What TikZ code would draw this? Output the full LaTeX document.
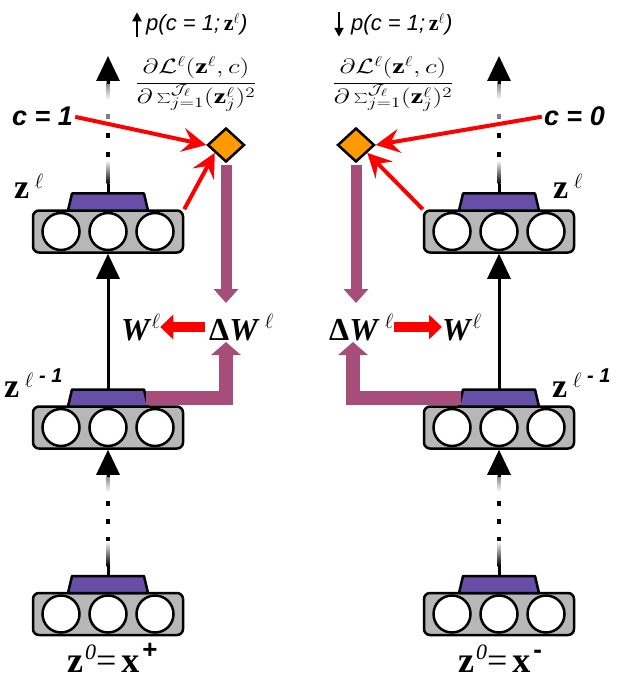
\documentclass[tikz,border=0pt]{standalone}
\usepackage{fontspec}
\setmainfont{Liberation Serif}
\newfontfamily\arialf{Liberation Sans}
\usetikzlibrary{arrows.meta,shapes.geometric}
\definecolor{boxgray}{HTML}{B7B7B7}
\definecolor{trapcol}{HTML}{674EA7}
\definecolor{mauve}{HTML}{A64D79}
\definecolor{diacol}{HTML}{FF9900}
\tikzset{
 layerbox/.style={draw, line width=2.5pt, fill=boxgray, rounded corners=6pt, minimum width=150pt, minimum height=42pt, inner sep=0pt},
 unitc/.style={circle, draw, line width=2.5pt, fill=white, minimum size=37pt, inner sep=0pt},
 trapbox/.style={draw, line width=2.5pt, fill=trapcol, line join=round},
 gate/.style={diamond, draw, line width=2.5pt, fill=diacol, minimum width=37pt, minimum height=34pt, inner sep=0pt},
 redarrow/.style={red, line width=4pt, -{Stealth[length=24pt,width=24pt,inset=9pt]}},
 redblock/.style={red, line width=10pt, -{Triangle[length=13pt,width=24pt]}},
 blackarrow/.style={line width=3pt, -{Triangle[length=25pt,width=23pt]}},
 mauvearrow/.style={mauve, line width=11pt, -{Triangle[length=14pt,width=24pt]}},
 mauvearrowb/.style={mauve, line width=14pt, line join=miter, -{Triangle[length=13pt,width=29pt]}},
 bigz/.style={inner sep=0pt, font=\fontsize{34}{34}\selectfont\bfseries},
 botz/.style={inner sep=0pt, font=\fontsize{36}{36}\selectfont\bfseries},
 wtext/.style={inner sep=0pt, font=\fontsize{32}{32}\selectfont\bfseries},
 ctext/.style={inner sep=2pt, font=\arialf\fontsize{27}{27}\selectfont\bfseries\itshape},
 ptext/.style={inner sep=0pt, font=\arialf\fontsize{22}{22}\selectfont\itshape},
 fractext/.style={inner sep=0pt, font=\fontsize{21}{21}\selectfont},
 grayfade/.style={line width=3pt},
 smallarrow/.style={line width=2pt, -{Triangle[length=9pt,width=9pt]}},
}
\newcommand{\ellsup}[1]{\raisebox{#1}{\fontsize{21}{21}\selectfont$\ell$}}
\newcommand{\gradfrac}{\scalebox{1.32}[1]{$\displaystyle\frac{\partial\mathcal{L}^{\ell}(\mathbf{z}^{\ell},c)}{\partial\sum_{j=1}^{\mathcal{J}_{\ell}}(\mathbf{z}_j^{\ell})^2}$}}
\begin{document}
\begin{tikzpicture}[x=1pt,y=-1pt]
\useasboundingbox (0,0) rectangle (623,676);
\fill[white] (0,0) rectangle (623,676);

% ---------- layer boxes ----------
\foreach \nm/\cx/\cy in {L1/108/614, L2/108/427.5, L3/108/231.5, R1/499/614, R2/499/427.5, R3/499/231.5}{
  \node[layerbox] (\nm) at (\cx,\cy) {};
  \node[unitc] (\nm a) at (\cx-47,\cy) {};
  \node[unitc] (\nm b) at (\cx,\cy) {};
  \node[unitc] (\nm c) at (\cx+47,\cy) {};
  \draw[trapbox] (\cx-40,\cy-21) -- (\cx+40,\cy-21) -- (\cx+36,\cy-38) -- (\cx-36,\cy-38) -- cycle;
  \coordinate (\nm tn) at (\cx,\cy-38);
  \coordinate (\nm te) at (\cx+38,\cy-29.5);
  \coordinate (\nm tw) at (\cx-38,\cy-29.5);
}

% ---------- diamonds ----------
\node[gate] (D1) at (226,145) {};
\node[gate] (D2) at (356,145) {};

% ---------- solid black arrows ----------
\draw[blackarrow] (L2tn) -- (L3.south);
\draw[blackarrow] (R2tn) -- (R3.south);

% ---------- dotted black arrows ----------
\coordinate (LtopTip) at (108,56);
\coordinate (RtopTip) at (499,56);
\foreach \x/\lo/\tip in {108/L3tn/LtopTip, 499/R3tn/RtopTip}{
  \shade[top color=white, bottom color=black] (\x-1.5,160) rectangle (\x+1.5,184);
  \draw[grayfade] (\lo) -- (\x,184);
  \fill[black] (\x-1.6,152) rectangle (\x+1.6,157);
  \fill[black] (\x-1.6,133) rectangle (\x+1.6,138);
  \fill[gray] (\x-1.6,114) rectangle (\x+1.6,119);
  \shade[top color=gray, bottom color=white] (\x-1.5,82) rectangle (\x+1.5,100);
  \draw[blackarrow] (\x,84) -- (\tip);
}
\foreach \x/\lo/\hi in {108/L1tn/L2, 499/R1tn/R2}{
  \shade[top color=white, bottom color=black] (\x-1.5,541) rectangle (\x+1.5,566);
  \draw[grayfade] (\lo) -- (\x,566);
  \fill[black] (\x-1.6,537) rectangle (\x+1.6,541);
  \fill[black] (\x-1.6,519) rectangle (\x+1.6,524);
  \fill[black] (\x-1.6,501) rectangle (\x+1.6,506);
  \shade[top color=gray, bottom color=white] (\x-1.5,475) rectangle (\x+1.5,492);
  \draw[blackarrow] (\x,477) -- (\hi.south);
}

% ---------- labels on layers ----------
\node[bigz, anchor=base west] (zl) at (14,199) {z\,\ellsup{10pt}};
\node[bigz, anchor=base west] (zr) at (553,199) {z\,\ellsup{10pt}};
\node[bigz, anchor=base west] (zlm) at (4,397) {z\,\ellsup{10pt}\,{\arialf\itshape\fontsize{20}{20}\selectfont\raisebox{15pt}{- 1}}};
\node[bigz, anchor=base west] (zrm) at (552,397) {z\,\ellsup{10pt}\,{\arialf\itshape\fontsize{20}{20}\selectfont\raisebox{15pt}{- 1}}};
\node[botz, anchor=base west] (x0l) at (67,672) {z\kern2pt\raisebox{13pt}{\mdseries\itshape\fontsize{22}{22}\selectfont 0}{\mdseries=}\kern5pt x\kern3pt\raisebox{14pt}{\arialf\fontsize{26}{26}\selectfont +}};
\node[botz, anchor=base west] (x0r) at (458,672) {z\kern2pt\raisebox{13pt}{\mdseries\itshape\fontsize{22}{22}\selectfont 0}{\mdseries=}\kern5pt x\kern3pt\raisebox{14pt}{\arialf\fontsize{26}{26}\selectfont -}};

% ---------- c labels and red arrows ----------
\node[ctext, anchor=base west] (c1) at (10,126) {c = 1};
\node[ctext, anchor=base east] (c0) at (607,126) {c = 0};
\draw[redarrow] (c1.east) -- (D1.west);
\draw[redarrow] (L3.north east) -- (D1.215);
\draw[redarrow] (c0.west) -- (D2.east);
\draw[redarrow] (R3.north west) -- (D2.-35);

% ---------- top formulas ----------
\node[ptext, anchor=base west] (p1) at (146,31) {p(c = 1;\,$\mathbf{z}^{\ell}$)};
\node[ptext, anchor=base west] (p2) at (351,31) {p(c = 1;\,$\mathbf{z}^{\ell}$)};
\draw[smallarrow] ([xshift=-9pt,yshift=-1pt]p1.south west) -- ([xshift=-9pt,yshift=1pt]p1.north west);
\draw[smallarrow] ([xshift=-12pt,yshift=1pt]p2.north west) -- ([xshift=-12pt,yshift=-1pt]p2.south west);
\node[fractext, anchor=base] (f1) at (196,88) {\gradfrac};
\node[fractext, anchor=base] (f2) at (393,88) {\gradfrac};

% ---------- weight updates ----------
\node[wtext, anchor=base west] (dW1) at (209,340) {Δ\textit{W}\,\ellsup{12pt}};
\node[wtext, anchor=base west] (W1) at (121,340) {\textit{W}\ellsup{12pt}};
\node[wtext, anchor=base west] (dW2) at (329,340) {Δ\textit{W}\,\ellsup{12pt}};
\node[wtext, anchor=base west] (W2) at (442,340) {\textit{W}\ellsup{12pt}};
\coordinate (rowy) at (0,327);
\draw[redblock] (205,327) -- (W1.east |- rowy);
\draw[redblock] (dW2.east |- rowy) -- (W2.west |- rowy);

% ---------- mauve arrows ----------
\coordinate (dW1top) at (226,303);
\coordinate (dW1bot) at (226,342);
\coordinate (dW2top) at (356,303);
\coordinate (dW2bot) at (353,342);
\draw[mauvearrow] ([yshift=-2pt]D1.south) -- (dW1top);
\draw[mauvearrow] ([yshift=-2pt]D2.south) -- (dW2top);
\draw[mauvearrowb] (L2te) -| (dW1bot);
\draw[mauvearrowb] (R2tw) -| (dW2bot);
\end{tikzpicture}
\end{document}
